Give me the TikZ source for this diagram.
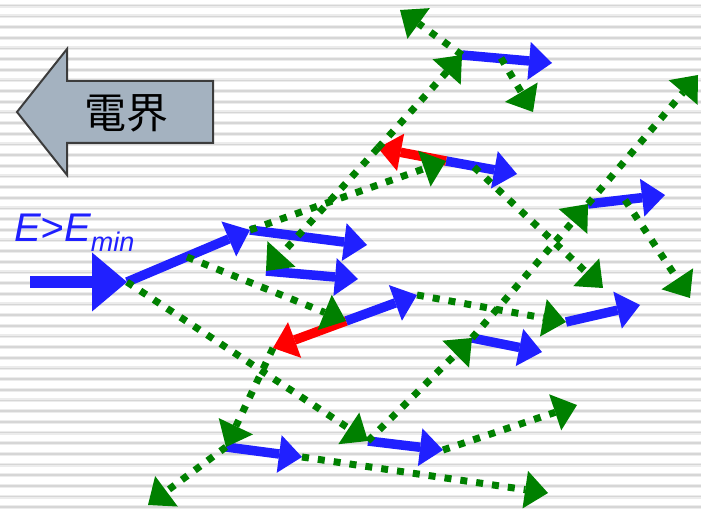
\documentclass[tikz,border=0pt]{standalone}
\usepackage{fontspec}
\setmainfont{Liberation Sans}
\newfontfamily\cjkfont{Noto Sans CJK JP}
\usetikzlibrary{arrows.meta}
\definecolor{eblue}{RGB}{32,32,255}
\definecolor{egreen}{RGB}{0,128,0}
\definecolor{ered}{RGB}{255,0,0}
\definecolor{fieldfill}{RGB}{164,178,192}
\definecolor{fieldedge}{RGB}{60,60,60}
\definecolor{stripecore}{RGB}{214,214,214}
\definecolor{stripehalo}{RGB}{236,236,236}

\begin{document}
\begin{tikzpicture}[x=1pt,y=-1pt,
  HeadTip/.tip={Triangle[length=23pt,width=38pt,line width=0pt 0]},
  InputTip/.tip={Triangle[length=35pt,width=59pt,line width=0pt 0]},
  electron/.style={draw=eblue,line width=9.5pt,-HeadTip},
  inputtrack/.style={draw=eblue,line width=12.5pt,-InputTip},
  backward/.style={draw=ered,line width=9.5pt,-HeadTip},
  scatter/.style={draw=egreen,line width=7pt,dash pattern=on 7pt off 9pt,-HeadTip},
  fieldarrow/.style={fill=fieldfill,draw=fieldedge,line width=2pt,line join=miter}]

% page and striped background
\useasboundingbox (0,0) rectangle (701,510);
\fill[white] (0,0) rectangle (701,510);
\foreach \k in {0,...,47}{
  \draw[stripehalo,line width=4pt] (0,{5.7+10.67*\k}) -- (701,{5.7+10.67*\k});
  \draw[stripecore,line width=1.6pt] (0,{5.7+10.67*\k}) -- (701,{5.7+10.67*\k});
}

% field direction arrow
\draw[fieldarrow] (17,112) -- (67,49) -- (67,81) -- (213,81) -- (213,143)
  -- (67,143) -- (67,175) -- cycle;
\node[font=\cjkfont\fontsize{42}{42}\selectfont,text=black,inner sep=0pt]
  (fieldlabel) at (126,113) {電界};

% energy condition
\node[anchor=base west,inner sep=0pt,text=eblue,
  font=\itshape\fontsize{40}{40}\selectfont] (threshold) at (14,242)
  {E>E\raisebox{-10pt}{\fontsize{27}{27}\selectfont min}};

% collision points
\coordinate (in0) at (30,282);
\coordinate (p0)  at (127,282);
\coordinate (p1)  at (250,230);
\coordinate (p2)  at (266,271);
\coordinate (p3)  at (346,321);
\coordinate (p4)  at (446,161);
\coordinate (p5)  at (462,55);
\coordinate (p6)  at (588,204);
\coordinate (p7)  at (566,322);
\coordinate (p8)  at (472,338);
\coordinate (p9)  at (226,447);
\coordinate (p10) at (368,441);
% ends of the drift tracks
\coordinate (b3)  at (367,245);
\coordinate (b4)  at (358,279);
\coordinate (b5)  at (417,295);
\coordinate (b6)  at (517,174);
\coordinate (b7)  at (552,63);
\coordinate (b8)  at (665,195);
\coordinate (b9)  at (640,305);
\coordinate (b10) at (542,352);
\coordinate (b11) at (302,457);
\coordinate (b12) at (443,450);
\coordinate (r1)  at (378,148);
\coordinate (r2)  at (273,348);
% points along tracks and free ends of scattered paths
\coordinate (m2)  at (187,257);
\coordinate (m6)  at (474,167);
\coordinate (m7)  at (501,58);
\coordinate (m8)  at (625,200);
\coordinate (e1)  at (400,10);
\coordinate (f1)  at (533,112);
\coordinate (g1)  at (603,288);
\coordinate (h3)  at (698,75);
\coordinate (i2)  at (148,505);
\coordinate (j1)  at (548,493);
\coordinate (k1)  at (577,405);
\coordinate (n1)  at (690,298);

% drift tracks
\draw[inputtrack] (in0) -- (p0);
\draw[electron] (p0) -- (p1);
\draw[electron] (p1) -- (b3);
\draw[electron] (p2) -- (b4);
\draw[electron] (p3) -- (b5);
\draw[backward] (p3) -- (r2);
\draw[electron] (p4) -- (b6);
\draw[backward] (p4) -- (r1);
\draw[electron] (p5) -- (b7);
\draw[electron] (p6) -- (b8);
\draw[electron] (p7) -- (b9);
\draw[electron] (p8) -- (b10);
\draw[electron] (p9) -- (b11);
\draw[electron] (p10) -- (b12);

% scattered paths
\draw[scatter] (p0) -- (p10);
\draw[scatter] (m2) -- (p3);
\draw[scatter] (p1) -- (p4);
\draw[scatter] (r1) -- (p5);
\draw[scatter] (r1) -- (p2);
\draw[scatter] (p5) -- (e1);
\draw[scatter] (m7) -- (f1);
\draw[scatter] (m6) -- (g1);
\draw[scatter] (p10) -- (p8);
\draw[scatter] (p8) -- (p6);
\draw[scatter] (p6) -- (h3);
\draw[scatter] (r2) -- (p9);
\draw[scatter] (p9) -- (i2);
\draw[scatter] (b11) -- (j1);
\draw[scatter] (b12) -- (k1);
\draw[scatter] (b5) -- (p7);
\draw[scatter] (m8) -- (n1);
\end{tikzpicture}
\end{document}
